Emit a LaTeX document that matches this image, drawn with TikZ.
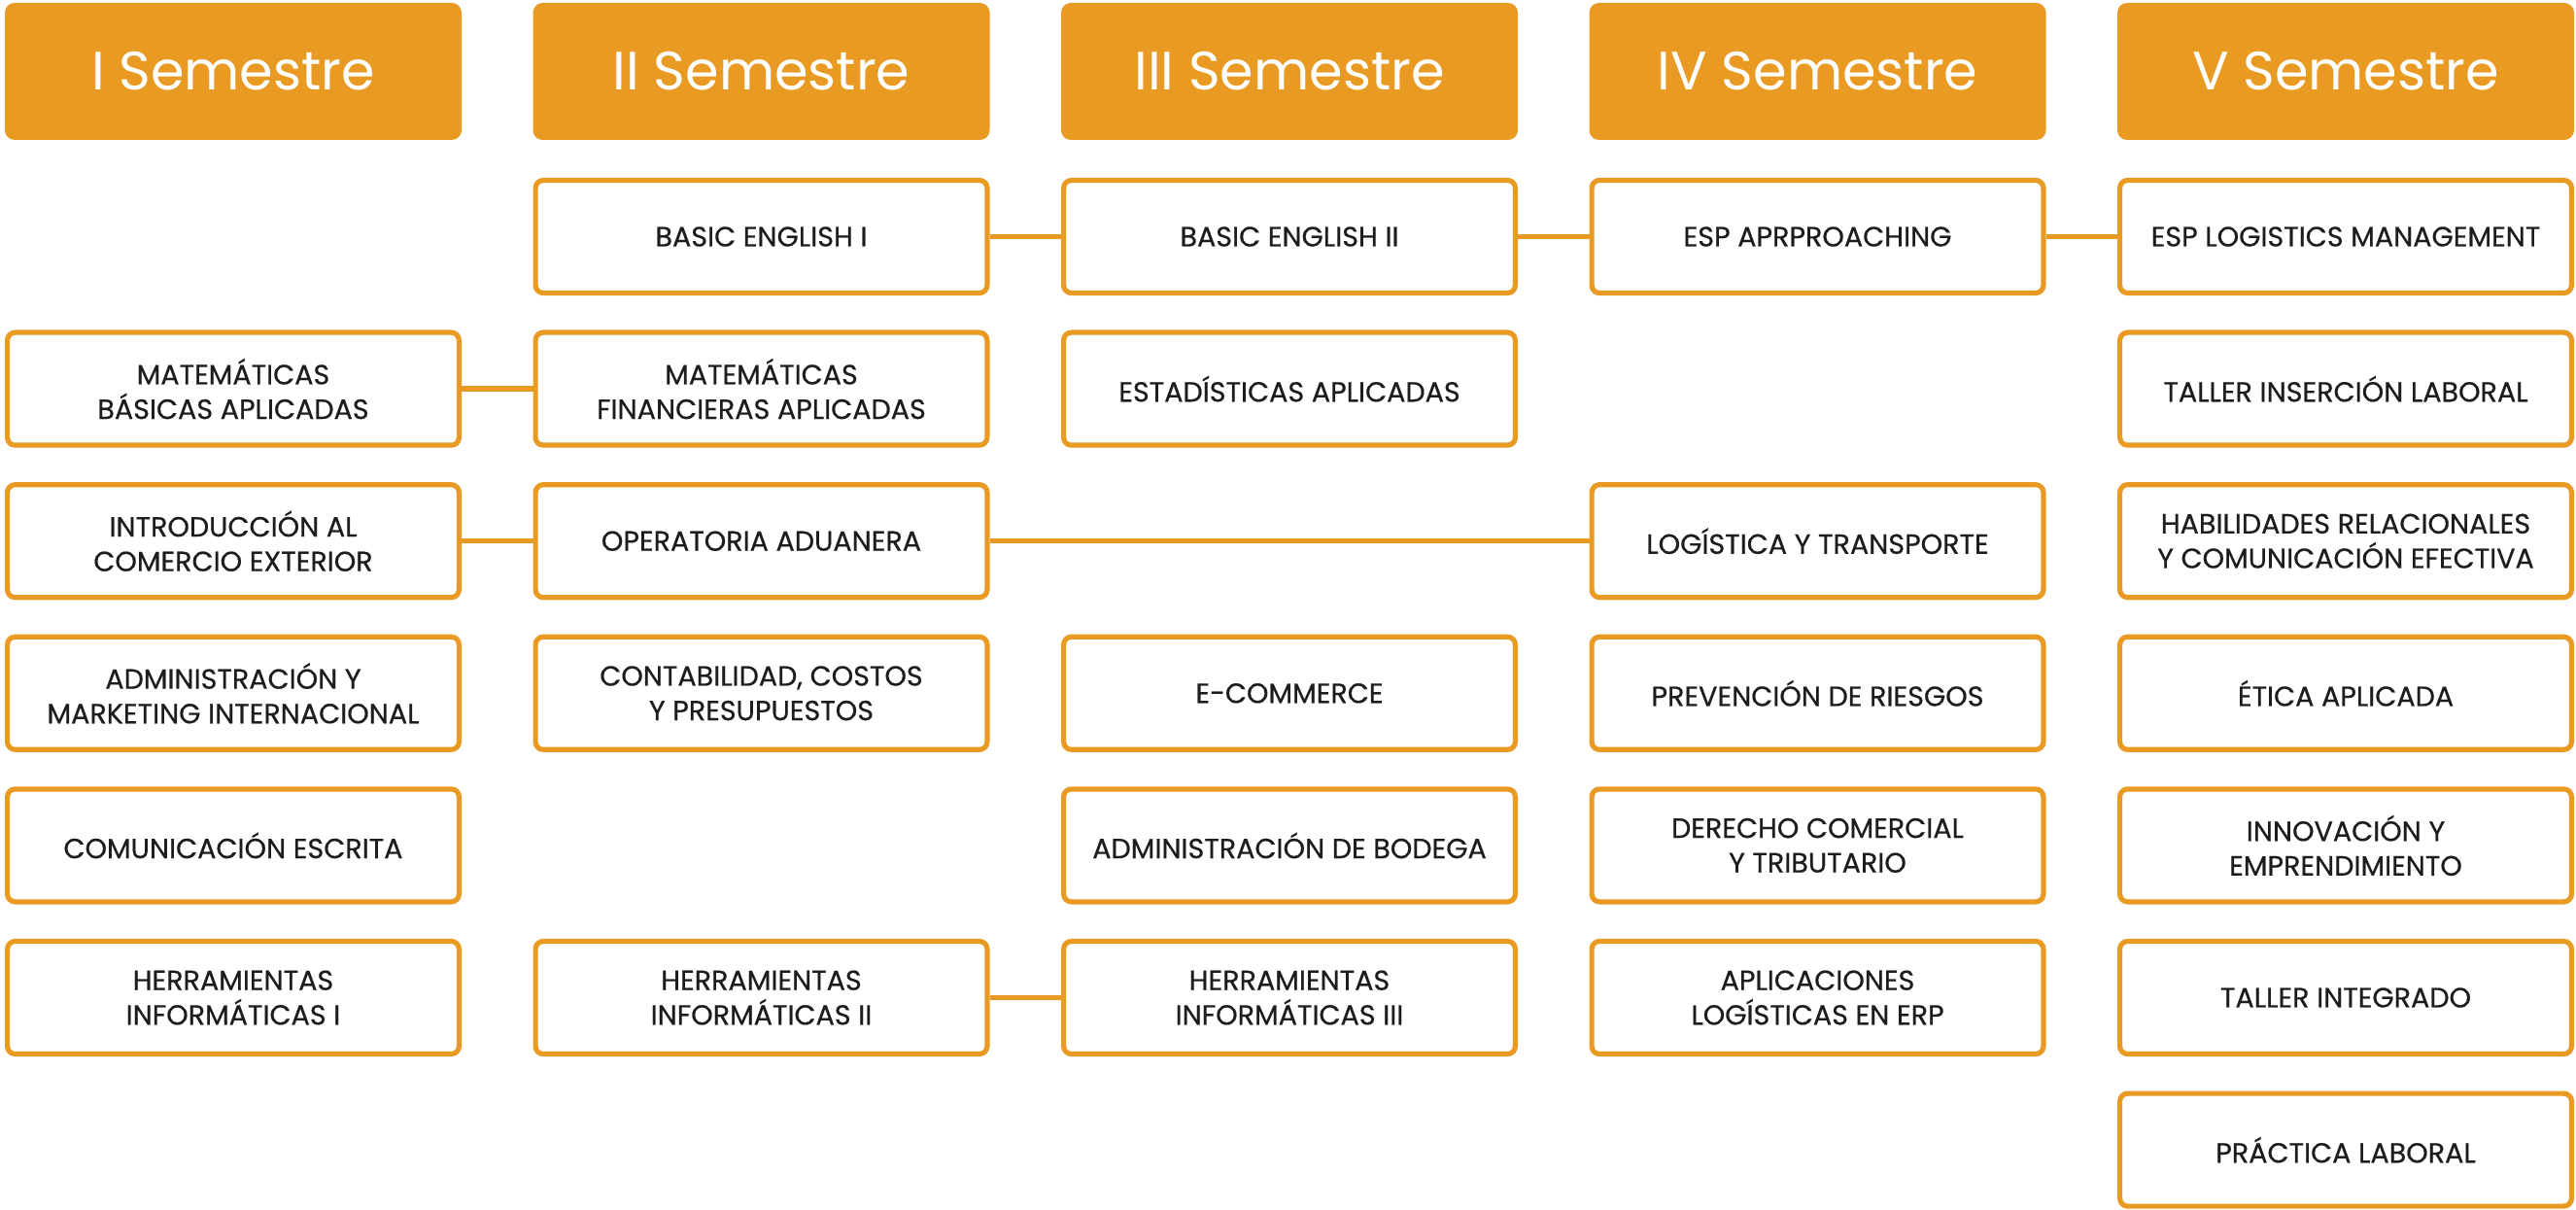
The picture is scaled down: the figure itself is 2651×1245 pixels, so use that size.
\documentclass[tikz,border=0pt]{standalone}
\usepackage{fontspec}
\setmainfont{Poppins}
\newfontfamily\bodyf{Poppins}[BoldFont=Poppins, BoldFeatures={FakeBold=0.5}]
\definecolor{orng}{HTML}{E99A22}
\definecolor{ink}{HTML}{1D1D1B}
\tikzset{
  head/.style={fill=orng, draw=none, rounded corners=5pt, minimum width=235pt, minimum height=70.5pt,
    text=white, font=\fontsize{27.8}{30}\selectfont, inner sep=0pt},
  course/.style={draw=orng, line width=2.6pt, fill=white, rounded corners=4pt, minimum width=232.4pt,
    minimum height=58pt, text=ink, align=center, inner sep=0pt, font=\bodyf\bfseries\fontsize{14.3}{17.8}\selectfont},
  link/.style={draw=orng, line width=2.8pt}
}
\begin{document}
\begin{tikzpicture}[x=0.5pt, y=-0.5pt]
\useasboundingbox (0,0) rectangle (2651,1245);
% headers
\node[head] (h1) at (240,73.5) {I Semestre};
\node[head] (h2) at (783.5,73.5) {II Semestre};
\node[head] (h3) at (1327,73.5) {III Semestre};
\node[head] (h4) at (1870.5,73.5) {IV Semestre};
\node[head] (h5) at (2414,73.5) {V Semestre};
% column I
\node[course] (m1) at (240,400.1) {MATEMÁTICAS\\BÁSICAS APLICADAS};
\node[course] (i1) at (240,556.7) {INTRODUCCIÓN AL\\COMERCIO EXTERIOR};
\node[course] (a1) at (240,713.3) {ADMINISTRACIÓN Y\\MARKETING INTERNACIONAL};
\node[course] (c1) at (240,869.9) {COMUNICACIÓN ESCRITA};
\node[course] (t1) at (240,1026.5) {HERRAMIENTAS\\INFORMÁTICAS I};
% column II
\node[course] (e2) at (783.5,243.5) {BASIC ENGLISH I};
\node[course] (m2) at (783.5,400.1) {MATEMÁTICAS\\FINANCIERAS APLICADAS};
\node[course] (o2) at (783.5,556.7) {OPERATORIA ADUANERA};
\node[course] (c2) at (783.5,713.3) {CONTABILIDAD, COSTOS\\Y PRESUPUESTOS};
\node[course] (t2) at (783.5,1026.5) {HERRAMIENTAS\\INFORMÁTICAS II};
% column III
\node[course] (e3) at (1327,243.5) {BASIC ENGLISH II};
\node[course] (s3) at (1327,400.1) {ESTADÍSTICAS APLICADAS};
\node[course] (k3) at (1327,713.3) {E-COMMERCE};
\node[course] (b3) at (1327,869.9) {ADMINISTRACIÓN DE BODEGA};
\node[course] (t3) at (1327,1026.5) {HERRAMIENTAS\\INFORMÁTICAS III};
% column IV
\node[course] (e4) at (1870.5,243.5) {ESP APRPROACHING};
\node[course] (l4) at (1870.5,556.7) {LOGÍSTICA Y TRANSPORTE};
\node[course] (p4) at (1870.5,713.3) {PREVENCIÓN DE RIESGOS};
\node[course] (d4) at (1870.5,869.9) {DERECHO COMERCIAL\\Y TRIBUTARIO};
\node[course] (a4) at (1870.5,1026.5) {APLICACIONES\\LOGÍSTICAS EN ERP};
% column V
\node[course] (e5) at (2414,243.5) {ESP LOGISTICS MANAGEMENT};
\node[course] (w5) at (2414,400.1) {TALLER INSERCIÓN LABORAL};
\node[course] (h5b) at (2414,556.7) {HABILIDADES RELACIONALES\\Y COMUNICACIÓN EFECTIVA};
\node[course] (x5) at (2414,713.3) {ÉTICA APLICADA};
\node[course] (n5) at (2414,869.9) {INNOVACIÓN Y\\EMPRENDIMIENTO};
\node[course] (g5) at (2414,1026.5) {TALLER INTEGRADO};
\node[course] (q5) at (2414,1183.1) {PRÁCTICA LABORAL};
% connectors
\draw[link] (e2.east) -- (e3.west);
\draw[link] (e3.east) -- (e4.west);
\draw[link] (e4.east) -- (e5.west);
\draw[link] (m1.east) -- (m2.west);
\draw[link] (i1.east) -- (o2.west);
\draw[link] (o2.east) -- (l4.west);
\draw[link] (t2.east) -- (t3.west);
\end{tikzpicture}
\end{document}
